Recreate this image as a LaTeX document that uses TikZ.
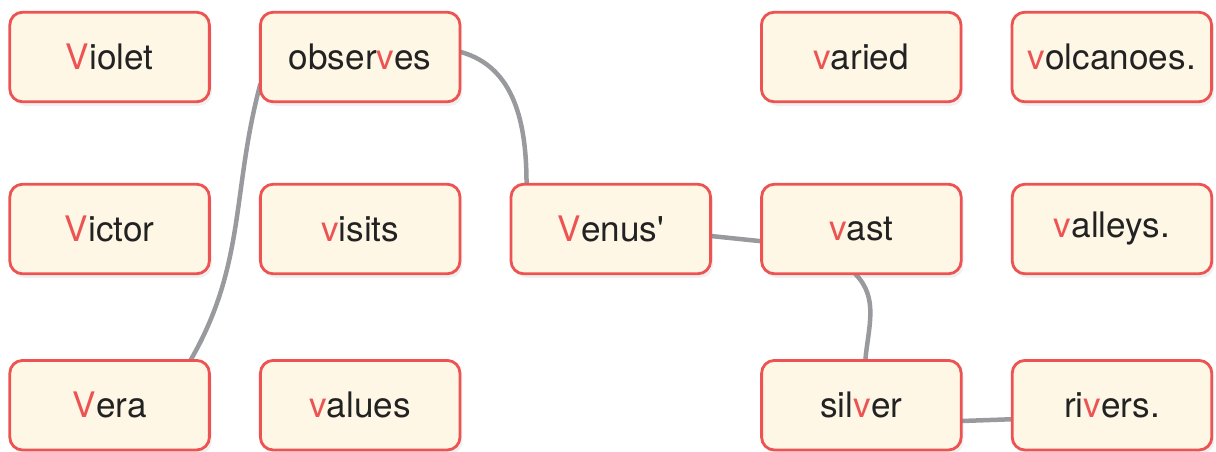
\documentclass[tikz,border=0pt]{standalone}
\usepackage{fontspec}
\setmainfont{TeX Gyre Heros}
\usepackage{xcolor}
\usetikzlibrary{positioning, shadows, backgrounds}
\definecolor{vred}{HTML}{EC5352}
\definecolor{boxfill}{HTML}{FEF7E6}
\definecolor{linkgray}{HTML}{999A9E}
\definecolor{wordink}{HTML}{222222}
\newcommand{\rv}[1]{\textcolor{vred}{#1}}

\begin{document}
\begin{tikzpicture}[
    wordbox/.style={rectangle, rounded corners=0.32cm, draw=vred, line width=2pt, fill=boxfill,
                    minimum width=4.99cm, minimum height=2.24cm, align=center, outer sep=0pt,
                    text=wordink, font=\fontsize{25}{30}\selectfont,
                    drop shadow={opacity=0.12, shadow xshift=0.06cm, shadow yshift=-0.1cm}},
    link/.style={draw=linkgray, line width=3.2pt}
]
\useasboundingbox (0,0) rectangle (30.4,-11.275);
% top row
\node[wordbox] (violet) at (2.74,-1.425) {\rv{V}iolet};
\node[wordbox, right=1.275cm of violet] (obs) {obser\rv{v}es};
\node[wordbox, right=7.535cm of obs] (varied) {\rv{v}aried};
\node[wordbox, right=1.275cm of varied] (volc) {\rv{v}olcanoes.};
% middle row
\node[wordbox, below=2.06cm of violet] (victor) {\rv{V}ictor};
\node[wordbox, right=1.275cm of victor] (visits) {\rv{v}isits};
\node[wordbox, right=1.275cm of visits] (venus) {\rv{V}enus\textquotesingle};
\node[wordbox, right=1.275cm of venus] (vast) {\rv{v}ast};
\node[wordbox, right=1.275cm of vast] (valleys) {\rv{v}alleys.};
% bottom row
\node[wordbox, below=2.165cm of victor] (vera) {\rv{V}era};
\node[wordbox, right=1.275cm of vera] (values) {\rv{v}alues};
\node[wordbox, below=2.165cm of vast] (silver) {sil\rv{v}er};
\node[wordbox, right=1.275cm of silver] (rivers) {ri\rv{v}ers.};

\begin{scope}[on background layer]
\draw[link] (vera.29) to[out=60, in=-105] (obs.195);
\draw[link] (obs.3) to[out=-15, in=90] (venus.152);
\draw[link] (venus.-4) -- (vast.187);
\draw[link] (vast.-98) to[out=-45, in=85] (silver.85);
\draw[link] (silver.-9) -- (rivers.188);
\end{scope}
\end{tikzpicture}
\end{document}
